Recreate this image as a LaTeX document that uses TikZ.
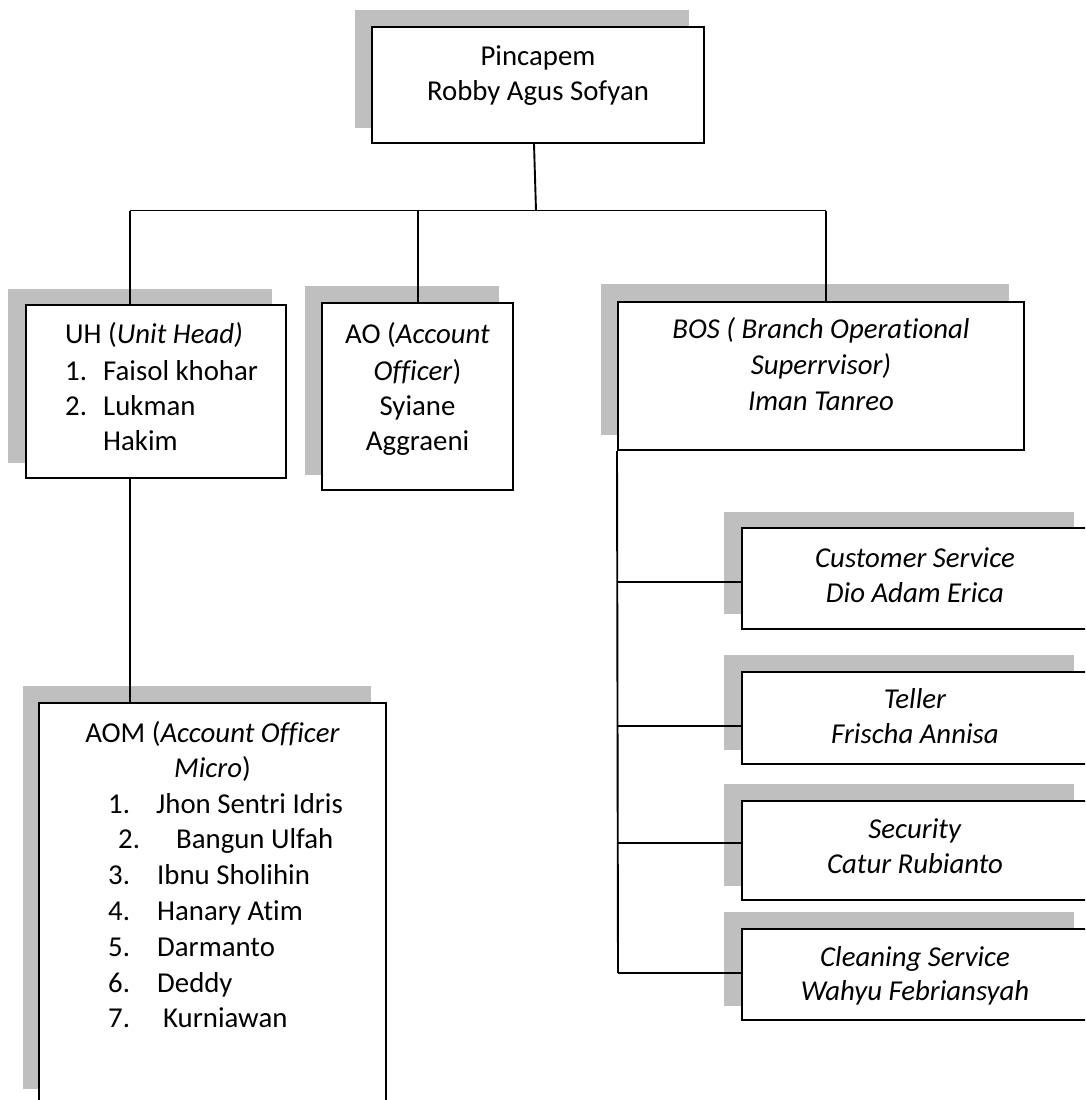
\documentclass[tikz,border=0pt]{standalone}
\usepackage{fontspec}
\setmainfont{Carlito}[Ligatures=NoCommon]
\definecolor{shadowgray}{RGB}{191,191,191}
\tikzset{
  shadowbox/.style={fill=shadowgray},
  orgbox/.style={draw=black, fill=white, line width=2pt, inner sep=0pt, rectangle},
  conn/.style={line width=1.9pt},
  txt/.style={inner sep=0pt, font=\fontsize{28.8}{35}\selectfont, anchor=base},
  txtl/.style={txt, anchor=base west},
}
\begin{document}
\begin{tikzpicture}[x=1pt,y=-1pt]
\useasboundingbox (0,0) rectangle (1085,1100);
\clip (0,0) rectangle (1085,1100);

% shadows
\fill[shadowbox] (355,10) rectangle (689,128);
\fill[shadowbox] (8,289) rectangle (272,463);
\fill[shadowbox] (305,286) rectangle (499,475);
\fill[shadowbox] (601,284) rectangle (1009,435);
\fill[shadowbox] (724,512) rectangle (1074,614);
\fill[shadowbox] (724,655) rectangle (1074,750);
\fill[shadowbox] (724,784) rectangle (1074,886);
\fill[shadowbox] (724,912) rectangle (1074,1006);
\fill[shadowbox] (23,686) rectangle (371,1089);

% boxes
\node[orgbox, minimum width=332pt, minimum height=116pt] (top) at (538,85) {};
\node[orgbox, minimum width=260pt, minimum height=173pt] (uh) at (156,391.5) {};
\node[orgbox, minimum width=191pt, minimum height=187pt] (ao) at (417.5,396.5) {};
\node[orgbox, minimum width=406pt, minimum height=148pt] (bos) at (821,376) {};
\node[orgbox, minimum width=346pt, minimum height=101pt] (cs) at (915,578.5) {};
\node[orgbox, minimum width=346pt, minimum height=92pt] (tel) at (915,718) {};
\node[orgbox, minimum width=346pt, minimum height=99pt] (sec) at (915,850.5) {};
\node[orgbox, minimum width=346pt, minimum height=91pt] (cln) at (915,974.5) {};
\node[orgbox, minimum width=347pt, minimum height=407pt] (aom) at (212.5,906.5) {};

% connectors
\coordinate (jt) at (536,210.5);
\coordinate (jl) at (130,210.5);
\coordinate (jm) at (418,210.5);
\coordinate (jr) at (826,210.5);
\draw[conn] ([xshift=-4pt]top.south) -- (jt);
\draw[conn] (jl) -- (jr);
\draw[conn] (jl) -- (jl |- uh.north);
\draw[conn] (jm) -- (jm |- ao.north);
\draw[conn] (jr) -- (jr |- bos.north);
\draw[conn] (jl |- uh.south) -- (jl |- aom.north);

\coordinate (b1) at (618,582);
\coordinate (b2) at (618,726);
\coordinate (b3) at (618,843);
\coordinate (b4) at (618,973);
\draw[conn] (bos.south west) -- (b4);
\draw[conn] (b1) -- (b1 -| cs.west);
\draw[conn] (b2) -- (b2 -| tel.west);
\draw[conn] (b3) -- (b3 -| sec.west);
\draw[conn] (b4) -- (b4 -| cln.west);

% texts: top
\node[txt] (t1) at (538,65) {Pincapem};
\node[txt] (t2) at (538,100) {Robby Agus Sofyan};

% UH
\node[txtl] (u0) at (65,343) {UH (\textit{Unit Head)}};
\node[txtl] (u1n) at (65,380) {1.};
\node[txtl] (u1) at (103,380) {Faisol khohar};
\node[txtl] (u2n) at (65,415) {2.};
\node[txtl] (u2) at (103,415) {Lukman};
\node[txtl] (u3) at (103,450) {Hakim};

% AO
\node[txt] (a1) at (417.5,343) {AO (\textit{Account}};
\node[txt] (a2) at (417.5,380) {\textit{Officer})};
\node[txt] (a3) at (417.5,415) {Syiane};
\node[txt] (a4) at (417.5,450) {Aggraeni};

% BOS
\node[txt] (s1) at (821,338) {\textit{BOS ( Branch Operational}};
\node[txt] (s2) at (821,374) {\textit{Superrvisor)}};
\node[txt] (s3) at (821,410) {\textit{Iman Tanreo}};

% staff
\node[txt] (c1) at (915,567) {\textit{Customer Service}};
\node[txt] (c2) at (915,602) {\textit{Dio Adam Erica}};
\node[txt] (e1) at (915,708) {\textit{Teller}};
\node[txt] (e2) at (915,743) {\textit{Frischa Annisa}};
\node[txt] (r1) at (915,838) {\textit{Security}};
\node[txt] (r2) at (915,873) {\textit{Catur Rubianto}};
\node[txt] (l1) at (915,966) {\textit{Cleaning Service}};
\node[txt] (l2) at (915,1000) {\textit{Wahyu Febriansyah}};

% AOM
\node[txt] (m0) at (212.5,742) {AOM (\textit{Account Officer}};
\node[txt] (m00) at (212.5,777) {\textit{Micro})};
\node[txtl] (n1) at (108,813) {1.};
\node[txtl] (m1) at (156,813) {Jhon Sentri Idris};
\node[txtl] (n2) at (118,848) {2.};
\node[txtl] (m2) at (176,848) {Bangun Ulfah};
\node[txtl] (n3) at (108,884) {3.};
\node[txtl] (m3) at (157,884) {Ibnu Sholihin};
\node[txtl] (n4) at (108,920) {4.};
\node[txtl] (m4) at (157,920) {Hanary Atim};
\node[txtl] (n5) at (108,956) {5.};
\node[txtl] (m5) at (157,956) {Darmanto};
\node[txtl] (n6) at (108,992) {6.};
\node[txtl] (m6) at (157,992) {Deddy};
\node[txtl] (n7) at (108,1027) {7.};
\node[txtl] (m7) at (163,1027) {Kurniawan};
\end{tikzpicture}
\end{document}
